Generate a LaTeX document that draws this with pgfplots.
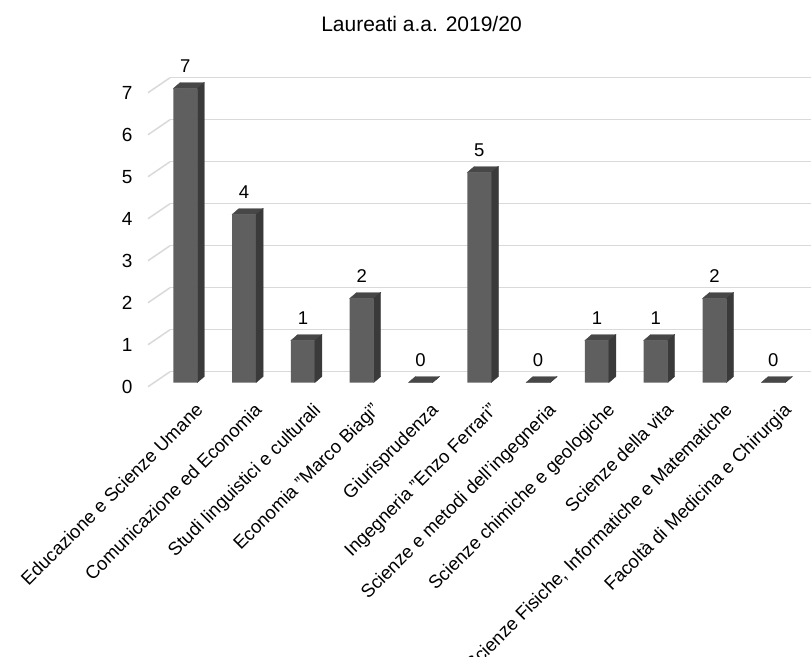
\documentclass[border=0pt]{standalone}
\usepackage{fontspec}
\setmainfont{Liberation Sans}
\usepackage{pgfplots}
\usepackage{pgfplotstable}
\pgfplotsset{compat=1.18}
\definecolor{frontc}{HTML}{5F5F5F}
\definecolor{sidec}{HTML}{3A3A3A}
\definecolor{topc}{HTML}{474747}
\definecolor{gridc}{HTML}{D9D9D9}
\pgfplotstableread{
x v
0 7
1 4
2 1
3 2
4 0
5 5
6 0
7 1
8 1
9 2
10 0
}\data
\begin{document}
\begin{tikzpicture}
\begin{axis}[
  x=58.8pt, y=42pt,
  xmin=-0.634, xmax=10.6,
  ymin=0, ymax=7,
  clip=false,
  axis line style={draw=none},
  tick style={draw=none},
  major tick length=0pt,
  /pgf/number format/assume math mode=true,
  ytick={0,...,7},
  xtick={0,...,10},
  xticklabels={Educazione e Scienze Umane,Comunicazione ed Economia,Studi linguistici e culturali,Economia "Marco Biagi",Giurisprudenza,Ingegneria "Enzo Ferrari",Scienze e metodi dell'ingegneria,Scienze chimiche e geologiche,Scienze della vita,{Scienze Fisiche, Informatiche e Matematiche},Facoltà di Medicina e Chirurgia},
  xticklabel style={rotate=45, anchor=north east, inner sep=0pt, font=\fontsize{18.5}{21}\selectfont, xshift=-7pt, yshift=-20pt},
  yticklabel style={anchor=east, inner sep=0pt, font=\fontsize{19}{22}\selectfont, xshift=-15.5pt, yshift=-4.2pt},
  ymajorgrids,
  major grid style={draw=gridc, line width=1.5pt, xshift=22pt, yshift=10.8pt},
]
\pgfplotsinvokeforeach{0,...,7}{
  \draw[gridc, line width=1.5pt] (axis cs:-0.634,#1) ++(0pt,-4.2pt) -- ++(22pt,15pt);
}
\addplot[ybar, bar width=24pt, bar shift=0pt, fill=frontc, draw=none,
  nodes near coords,
  every node near coord/.append style={anchor=south, inner sep=0pt, yshift=16pt, text=black, font=\fontsize{18.5}{22}\selectfont},
] table[x=x, y=v] {\data};
\addplot[scatter, only marks, mark=*, mark size=0pt, mark options={draw=none, fill=none},
  visualization depends on={\thisrow{v} \as \val},
  scatter/@pre marker code/.code={%
    \fill[topc] (-12pt,0pt) -- (12pt,0pt) -- (19pt,6pt) -- (-5pt,6pt) -- cycle;
    \fill[sidec] (12pt,0pt) -- (19pt,6pt) -- (19pt,{6pt-\val*42pt}) -- (12pt,{-\val*42pt}) -- cycle;
  },
  scatter/@post marker code/.code={},
] table[x=x, y=v] {\data};
\coordinate (o) at (axis cs:0,0);
\end{axis}
\node[anchor=base, font=\fontsize{21}{25}\selectfont] at ([shift={(236.2pt,350.5pt)}]o) {Laureati a.a. 2019/20};
\pgfresetboundingbox
\path[use as bounding box] ([shift={(-185.3pt,-273.5pt)}]o) rectangle ([shift={(625.7pt,382.5pt)}]o);
\end{tikzpicture}
\end{document}
